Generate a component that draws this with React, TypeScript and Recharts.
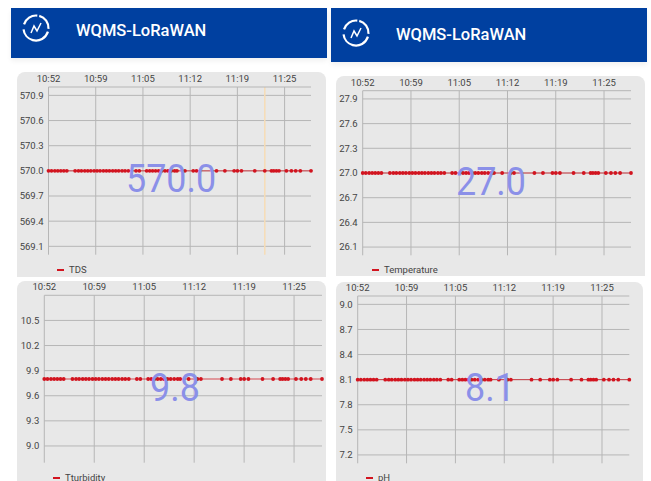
import { CartesianGrid, Legend, Line, LineChart, ReferenceLine, XAxis, YAxis } from "recharts";

// minutes since 10:52
const sampleMinutes = [
  0, 0.42, 0.88, 1.3, 1.72, 2.14, 2.56,
  3.72, 4.19, 4.6, 5.07, 5.49, 5.91, 6.37, 6.79, 7.21, 7.67, 8.09, 8.51, 8.97, 9.39, 9.81, 10.28, 10.7, 11.16,
  12.23, 12.69,
  13.72, 14.14, 14.55, 14.97, 15.39, 15.81, 16.28, 16.69, 17.16, 17.62, 17.95,
  19.07, 20.23, 20.69, 23.48, 24.65, 25.95, 26.41, 26.97, 28.83, 30.23,
  31.16, 31.48, 31.85, 32.22, 33.25, 33.95, 34.55, 35.2, 36.69,
];

const tdsValues = [
  570, 570, 570, 570, 570, 570, 570, 570, 570, 570,
  570, 570, 570, 570, 570, 570, 570, 570, 570, 570,
  570, 570, 570, 570, 570, 570, 570, 570, 570, 570,
  570, 570, 570, 570, 570, 570, 570, 570, 570, 570,
  570, 570, 570, 570, 570, 570, 570, 570, 570, 570,
  570, 570, 570, 570, 570, 570, 570,
];
const temperatureValues = [
  27, 27, 27, 27, 27, 27, 27, 27, 27, 27,
  27, 27, 27, 27, 27, 27, 27, 27, 27, 27,
  27, 27, 27, 27, 27, 27, 27, 27, 27, 27,
  27, 27, 27, 27, 27, 27, 27, 27, 27, 27,
  27, 27, 27, 27, 27, 27, 27, 27, 27, 27,
  27, 27, 27, 27, 27, 27, 27,
];
const turbidityValues = [
  9.8, 9.8, 9.8, 9.8, 9.8, 9.8, 9.8, 9.8, 9.8, 9.8,
  9.8, 9.8, 9.8, 9.8, 9.8, 9.8, 9.8, 9.8, 9.8, 9.8,
  9.8, 9.8, 9.8, 9.8, 9.8, 9.8, 9.8, 9.8, 9.8, 9.8,
  9.8, 9.8, 9.8, 9.8, 9.8, 9.8, 9.8, 9.8, 9.8, 9.8,
  9.8, 9.8, 9.8, 9.8, 9.8, 9.8, 9.8, 9.8, 9.8, 9.8,
  9.8, 9.8, 9.8, 9.8, 9.8, 9.8, 9.8,
];
const phValues = [
  8.1, 8.1, 8.1, 8.1, 8.1, 8.1, 8.1, 8.1, 8.1, 8.1,
  8.1, 8.1, 8.1, 8.1, 8.1, 8.1, 8.1, 8.1, 8.1, 8.1,
  8.1, 8.1, 8.1, 8.1, 8.1, 8.1, 8.1, 8.1, 8.1, 8.1,
  8.1, 8.1, 8.1, 8.1, 8.1, 8.1, 8.1, 8.1, 8.1, 8.1,
  8.1, 8.1, 8.1, 8.1, 8.1, 8.1, 8.1, 8.1, 8.1, 8.1,
  8.1, 8.1, 8.1, 8.1, 8.1, 8.1, 8.1,
];

const xTicks = [0, 6.6, 13.2, 19.8, 26.4, 33];
const xLabels = ["10:52", "10:59", "11:05", "11:12", "11:19", "11:25"];
const xDomain = [0, 36.69];
const cursorMinute = 30.23;

const tdsTicks = [569.1, 569.4, 569.7, 570, 570.3, 570.6, 570.9];
const temperatureTicks = [26.1, 26.4, 26.7, 27, 27.3, 27.6, 27.9];
const turbidityTicks = [9, 9.3, 9.6, 9.9, 10.2, 10.5];
const phTicks = [7.2, 7.5, 7.8, 8.1, 8.4, 8.7, 9];

const FONT = "Roboto, sans-serif";
const GRID = "#b6b6b6";
const RED = "#d2141f";
const X_AXIS_H = 14;
const Y_AXIS_W = 30;

function Header({ left, top, width, height, cx, cy, textY }: any) {
  return (
    <>
      <div
        style={{
          position: "absolute",
          left,
          top,
          width,
          height,
          background: "#0040a0",
          boxShadow: "0 3px 5px rgba(0,0,0,0.06)",
        }}
      />
      <svg style={{ position: "absolute", left: cx - 15, top: cy - 15 }} width={30} height={30} viewBox="0 0 30 30">
        <circle
          cx={15}
          cy={15}
          r={12.5}
          fill="none"
          stroke="#fff"
          strokeWidth={2.2}
          strokeDasharray="17 3 34 5 17 3"
          transform="rotate(-75 15 15)"
        />
        <polyline points="10,20 13,13 16,18 20,10" fill="none" stroke="#fff" strokeWidth={1.5} />
      </svg>
      <div
        style={{
          position: "absolute",
          left: left + 65,
          top: textY,
          color: "#fff",
          fontFamily: FONT,
          fontWeight: 500,
          fontSize: 16.5,
          lineHeight: "20px",
          whiteSpace: "nowrap",
        }}
      >
        WQMS-LoRaWAN
      </div>
    </>
  );
}

function ChartLegend({ name, x, y }: any) {
  return (
    <div
      style={{
        position: "absolute",
        left: x,
        top: y,
        display: "flex",
        alignItems: "center",
        fontFamily: FONT,
        fontSize: 9.5,
        lineHeight: "12px",
        color: "#444",
        whiteSpace: "nowrap",
      }}
    >
      <span style={{ width: 7, height: 2, background: RED, marginRight: 5 }} />
      {name}
    </div>
  );
}

function Panel({ box, plot, name, values, ticks, domain, big, legend, cursor, decimals }: any) {
  const rows = sampleMinutes.map((minute, i) => ({ minute, value: values[i] }));
  const margin = {
    top: plot.top - box.top - X_AXIS_H,
    left: plot.left - box.left - Y_AXIS_W,
    right: box.left + box.width - plot.right,
    bottom: box.top + box.height - plot.bottom,
  };
  const tick = { fontSize: 9.5, fill: "#444", fontFamily: FONT };
  return (
    <div
      style={{
        position: "absolute",
        left: box.left,
        top: box.top,
        width: box.width,
        height: box.height,
        background: "#e8e8e8",
        borderRadius: "8px 8px 0 0",
      }}
    >
      <LineChart width={box.width} height={box.height} data={rows} margin={margin}>
        <CartesianGrid stroke={GRID} strokeWidth={1} syncWithTicks />
        <XAxis
          dataKey="minute"
          type="number"
          orientation="top"
          height={X_AXIS_H}
          domain={xDomain}
          ticks={xTicks}
          tick={tick}
          tickLine={false}
          tickSize={0}
          tickMargin={5}
          axisLine={{ stroke: GRID }}
          interval={0}
          tickFormatter={(v: number) => xLabels[xTicks.indexOf(v)]}
        />
        <YAxis
          type="number"
          width={Y_AXIS_W}
          domain={domain}
          ticks={ticks}
          tick={tick}
          tickLine={false}
          tickSize={0}
          tickMargin={5}
          axisLine={false}
          interval={0}
          tickFormatter={(v: number) => v.toFixed(decimals)}
        />
        {cursor && <ReferenceLine x={cursorMinute} stroke="#f6dcb6" strokeWidth={1.5} />}
        <Legend
          wrapperStyle={{ left: 0, top: 0, bottom: "auto" }}
          content={() => <ChartLegend name={name} x={legend.x} y={legend.y} />}
        />
        <Line
          dataKey="value"
          name={name}
          stroke={RED}
          strokeWidth={1}
          strokeOpacity={0.75}
          dot={{ r: 1.9, fill: RED, stroke: "none" }}
          isAnimationActive={false}
        />
      </LineChart>
      <div
        style={{
          position: "absolute",
          left: big.x,
          top: big.y,
          fontFamily: FONT,
          fontSize: 39,
          lineHeight: "40px",
          color: "#8b90e8",
          transform: "scaleX(0.92)",
          transformOrigin: "left top",
          whiteSpace: "nowrap",
        }}
      >
        {big.text}
      </div>
    </div>
  );
}

export default function App() {
  return (
    <div style={{ position: "absolute", left: 0, top: 0, width: 651, height: 481, overflow: "hidden", background: "#fff" }}>
      <Panel
        box={{ left: 17, top: 72, width: 309, height: 205 }}
        plot={{ left: 48.5, right: 311, top: 87, bottom: 254.7 }}
        name="TDS"
        values={tdsValues}
        ticks={tdsTicks}
        domain={[569, 571]}
        decimals={1}
        big={{ text: "570.0", x: 109, y: 87 }}
        legend={{ x: 40, y: 192 }}
        cursor
      />
      <Panel
        box={{ left: 336, top: 76, width: 309, height: 200 }}
        plot={{ left: 362.7, right: 631, top: 90.7, bottom: 255.3 }}
        name="Temperature"
        values={temperatureValues}
        ticks={temperatureTicks}
        domain={[26, 28]}
        decimals={1}
        big={{ text: "27.0", x: 120, y: 86 }}
        legend={{ x: 36, y: 188 }}
      />
      <Panel
        box={{ left: 17, top: 281, width: 309, height: 200 }}
        plot={{ left: 44.3, right: 322, top: 295.3, bottom: 462.7 }}
        name="Tturbidity"
        values={turbidityValues}
        ticks={turbidityTicks}
        domain={[8.8, 10.8]}
        decimals={1}
        big={{ text: "9.8", x: 133, y: 87 }}
        legend={{ x: 36, y: 191 }}
      />
      <Panel
        box={{ left: 336, top: 282, width: 307, height: 199 }}
        plot={{ left: 357.7, right: 629.3, top: 296, bottom: 463.3 }}
        name="pH"
        values={phValues}
        ticks={phTicks}
        domain={[7.1, 9.1]}
        decimals={1}
        big={{ text: "8.1", x: 129, y: 86 }}
        legend={{ x: 30, y: 190 }}
      />
      <Header left={11} top={8} width={316} height={50} cx={36} cy={28} textY={21} />
      <Header left={331} top={8} width={316} height={54} cx={356} cy={33} textY={25} />
    </div>
  );
}
